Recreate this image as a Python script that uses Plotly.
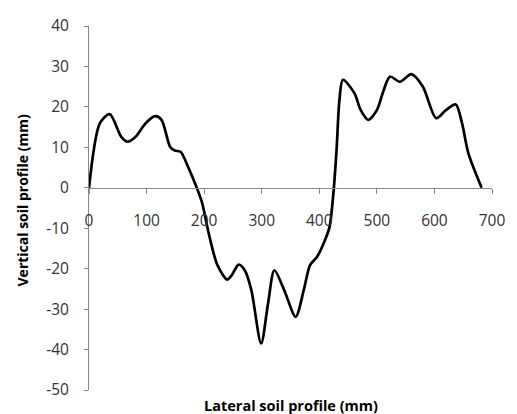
import plotly.graph_objects as go

# Lateral position (mm) and vertical soil profile (mm)
lateral_mm = [0, 19, 36, 56, 67, 81, 98, 115, 126, 141, 149, 159, 172, 183, 196,
              208, 223, 240, 248, 260, 271, 282, 299, 311, 322, 339, 359, 373,
              384, 396, 410, 418, 424, 430, 435, 441, 461, 472, 485, 500, 512,
              523, 540, 560, 580, 603, 620, 637, 648, 659, 682]
vertical_mm = [0, 16, 18.2, 12.6, 11.4, 12.6, 15.9, 17.7, 16.8, 10.1, 9.2, 8.9,
               5.2, 1.5, -3.5, -11.3, -19.1, -22.7, -21.6, -19, -20.5, -25.3,
               -38.5, -28.6, -20.4, -25.3, -31.9, -25.3, -19.1, -17.1, -12.9,
               -9.6, -2.2, 9.3, 21.7, 26.7, 23.4, 19.2, 16.8, 19.2, 24.2, 27.5,
               26.2, 28.1, 25, 17.2, 19.2, 20.6, 15.9, 8.5, 0]

x_ticks = [0, 100, 200, 300, 400, 500, 600, 700]
y_ticks = [40, 30, 20, 10, 0, -10, -20, -30, -40, -50]

FONT = "Open Sans, sans-serif"
AXIS_GREY = "#888888"

W, H = 517, 414
ML, MR, MT, MB = 89, 16, 26, 24
plot_w = W - ML - MR
plot_h = H - MT - MB

fig = go.Figure()
fig.add_trace(go.Scatter(
    x=lateral_mm, y=vertical_mm, mode="lines",
    line=dict(color="black", width=2.7, shape="spline", smoothing=0.8),
    showlegend=False, hoverinfo="skip",
))

y_min, y_max = -50, 40
fig.update_layout(
    width=W, height=H,
    margin=dict(l=ML, r=MR, t=MT, b=MB),
    paper_bgcolor="white", plot_bgcolor="white",
    font=dict(family=FONT, size=15.5, color="#333333"),
    xaxis=dict(
        range=[0, 700], tickvals=x_ticks, ticktext=[str(v) for v in x_ticks],
        anchor="free", position=(0 - y_min) / (y_max - y_min),
        showline=True, linecolor=AXIS_GREY, linewidth=1,
        ticks="outside", ticklen=5, tickcolor=AXIS_GREY,
        showgrid=False, zeroline=False, ticklabelstandoff=14,
    ),
    yaxis=dict(
        range=[y_min, y_max], tickvals=y_ticks, ticktext=[str(v) for v in y_ticks],
        showline=True, linecolor=AXIS_GREY, linewidth=1,
        ticks="outside", ticklen=4, tickcolor=AXIS_GREY,
        showgrid=False, zeroline=False, ticklabelstandoff=12,
    ),
    annotations=[
        dict(text="<b>Lateral soil profile (mm)</b>", x=0.5, xref="paper",
             y=((H - MB) - 405.5) / plot_h, yref="paper", yanchor="middle",
             showarrow=False,
             font=dict(family=FONT, size=14.5, color="black")),
        dict(text="<b>Vertical soil profile (mm)</b>", x=(21 - ML) / plot_w,
             xref="paper", y=((H - MB) - 200) / plot_h, yref="paper",
             xanchor="center", yanchor="middle",
             textangle=-90, showarrow=False,
             font=dict(family=FONT, size=14, color="black")),
    ],
)

fig.write_html("out.html")
